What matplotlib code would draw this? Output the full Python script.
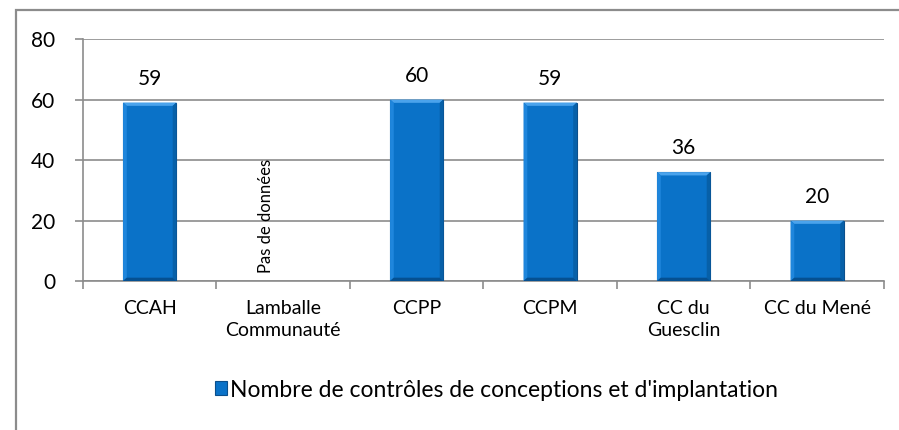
import matplotlib.pyplot as plt
from matplotlib.patches import Rectangle, Polygon

plt.rcParams['font.family'] = ['Lato', 'DejaVu Sans']

# Données
categories = ['CCAH', 'Lamballe\nCommunauté', 'CCPP', 'CCPM', 'CC du\nGuesclin', 'CC du Mené']
valeurs = [59, None, 60, 59, 36, 20]
legende = "Nombre de contrôles de conceptions et d'implantation"
sans_donnees = 'Pas de données'
yticks = [0, 20, 40, 60, 80]

fig = plt.figure(figsize=(8.99, 4.30), dpi=100)
ax = fig.add_axes([0.0923, 0.3465, 0.891, 0.5628])

# cadre du graphique
fig.patches.append(Rectangle((15.5 / 899, -0.1), 1.2, 1 - 9.5 / 430 + 0.1,
                             transform=fig.transFigure, fill=False,
                             edgecolor='#8c8c8c', linewidth=1.6))

largeur = 0.4
bleu = '#0a72c8'
for i, v in enumerate(valeurs):
    if v is None:
        ax.text(i - 0.13, 2.6, sans_donnees, rotation=90, ha='center', va='bottom',
                fontsize=12, color='black')
        continue
    ax.bar(i, v, width=largeur, color=bleu, edgecolor='#0b4f8c', linewidth=0.8, zorder=3)
    # biseau : bord supérieur clair et bords latéraux plus sombres
    x0, x1 = i - largeur / 2, i + largeur / 2
    b = 0.028
    hb = 1.1
    ax.add_patch(Polygon([(x0, v), (x1, v), (x1 - b, v - hb), (x0 + b, v - hb)],
                         closed=True, facecolor='#4aa3ec', edgecolor='none', zorder=4))
    ax.add_patch(Polygon([(x0, v), (x0 + b, v - hb), (x0 + b, hb), (x0, 0)],
                         closed=True, facecolor='#1f86dc', edgecolor='none', zorder=4))
    ax.add_patch(Polygon([(x1, v), (x1 - b, v - hb), (x1 - b, hb), (x1, 0)],
                         closed=True, facecolor='#0760a8', edgecolor='none', zorder=4))
    ax.add_patch(Polygon([(x0, 0), (x1, 0), (x1 - b, hb), (x0 + b, hb)],
                         closed=True, facecolor='#055091', edgecolor='none', zorder=4))
    ax.text(i, v + 4.5, str(v), ha='center', va='bottom', fontsize=15)

ax.set_xlim(-0.5, len(categories) - 0.5)
ax.set_ylim(0, 80)
ax.set_yticks(yticks)
ax.set_yticklabels([str(t) for t in yticks], fontsize=15)
ax.yaxis.grid(True, color='#8c8c8c', linewidth=1.2, zorder=0)
ax.set_axisbelow(True)

# ticks de l'axe x entre les catégories
ax.set_xticks([i + 0.5 for i in range(-1, len(categories))])
ax.set_xticklabels([])
ax.set_xticks(range(len(categories)), minor=True)
ax.set_xticklabels(categories, minor=True, fontsize=14, linespacing=1.3)
ax.tick_params(axis='x', which='minor', length=0, pad=14)
ax.tick_params(axis='x', which='major', length=6, color='#8c8c8c', width=1.2)
ax.tick_params(axis='y', length=6, color='#8c8c8c', width=1.2, pad=14)

for s in ['top', 'right']:
    ax.spines[s].set_visible(False)
for s in ['left', 'bottom']:
    ax.spines[s].set_color('#8c8c8c')
    ax.spines[s].set_linewidth(1.2)

handle = Rectangle((0, 0), 1, 1, facecolor=bleu, edgecolor='#0b4f8c', linewidth=0.8)
fig.legend([handle], [legende], loc='center', bbox_to_anchor=(0.552, 0.093),
           frameon=False, fontsize=16.5, handlelength=0.55, handleheight=0.55,
           handletextpad=0.12)

fig.savefig('out.png', dpi=100)
